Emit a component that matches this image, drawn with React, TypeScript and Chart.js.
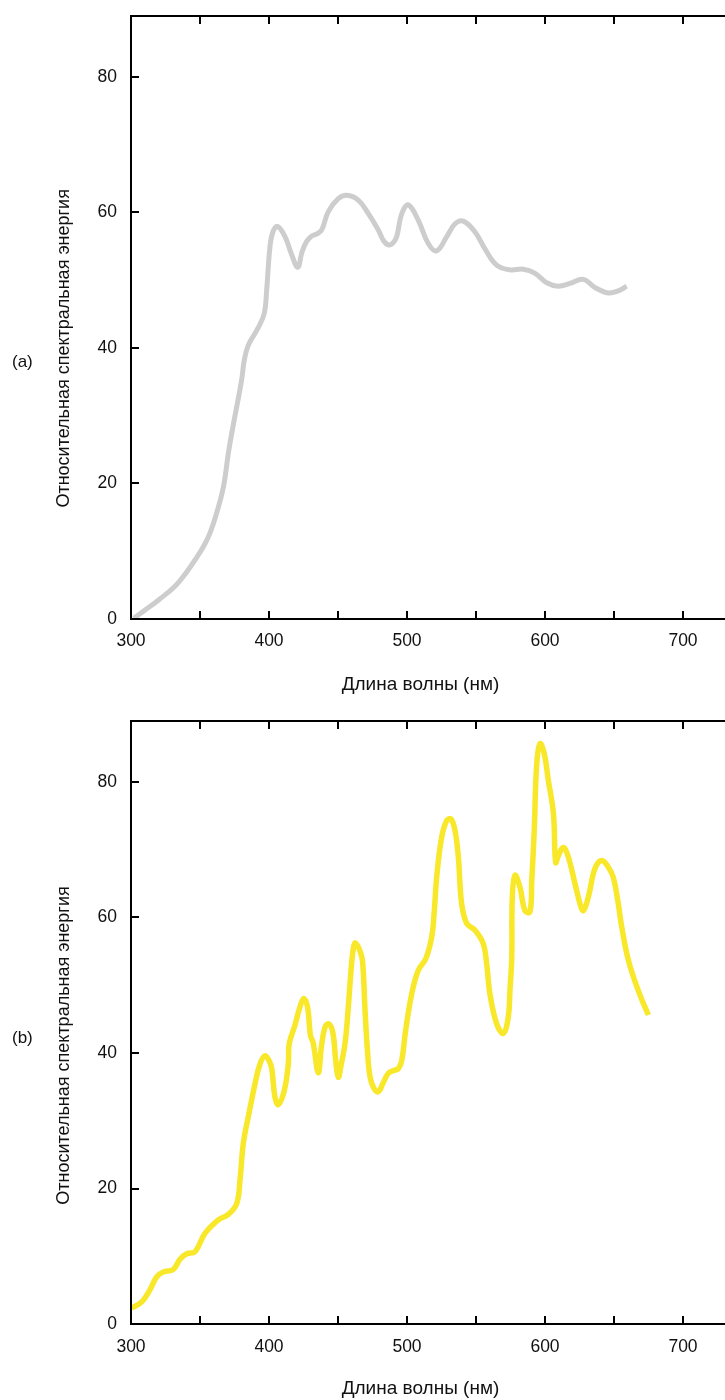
import React, { useEffect, useRef } from "react";
import { Chart, registerables } from "chart.js";

Chart.register(...registerables);

// ---- data ----
const waveA = [302, 310, 320, 334, 348, 356, 362, 367, 370.5, 373, 376.6, 380.2, 382.1, 385, 392, 396.6, 398.3, 400.7, 403, 406.3, 411.6, 416, 420.8, 424, 427.3, 431, 434.6, 438.2, 443, 450.2, 456.3, 464.7, 472, 479.2, 483, 486.4, 489.5, 492.5, 496.2, 501, 508.2, 515.4, 521.5, 528.8, 534.8, 540.8, 549.3, 556.5, 565, 574.6, 584.3, 592.8, 601.2, 609.6, 618.1, 627.8, 636.2, 645.9, 653.1, 659.2];
const energyA = [0.1, 1.3, 2.8, 5.3, 9.2, 12.1, 15.6, 19.5, 24.4, 27.4, 31.3, 35.3, 38.2, 40.4, 42.9, 45.1, 48.5, 54.9, 57.2, 57.9, 56.4, 54, 51.9, 54.2, 55.7, 56.5, 56.8, 57.4, 60.1, 62.0, 62.5, 61.8, 59.8, 57.4, 55.8, 55.2, 55.4, 56.4, 59.8, 61.1, 58.8, 55.4, 54.3, 56.4, 58.3, 58.7, 57.1, 54.6, 52.2, 51.5, 51.6, 51.0, 49.6, 49.1, 49.5, 50.1, 48.9, 48.1, 48.4, 49.1];

const waveB = [300.5, 307.8, 313.8, 318.6, 323.4, 330.7, 335.5, 340.4, 346.4, 353.6, 363.3, 370.5, 376.6, 379, 381.4, 385, 389.9, 393.5, 397.1, 400, 402, 404.3, 406.8, 411.1, 414, 414.7, 418.8, 422, 425, 427, 428.5, 430, 432, 435.7, 438, 440.6, 443.3, 446.3, 448.3, 450.2, 452.5, 455.1, 457.3, 459, 460.5, 462.2, 464.2, 466, 467.8, 469.6, 471.3, 473.2, 476, 479.2, 482.5, 486.4, 490, 493.7, 496.2, 499, 503.4, 508.2, 513.6, 517.9, 519.8, 521.5, 525.1, 528.8, 531.9, 534.8, 537.2, 539.6, 543.3, 549.3, 555.3, 557.7, 560.1, 565, 569.8, 573.4, 574.6, 575.9, 576.3, 578.3, 581.9, 585.5, 589.1, 590.4, 592.2, 594, 596.4, 599.5, 602.4, 606.1, 607.7, 609.7, 613.3, 616.9, 621.7, 625.4, 627.8, 631.4, 636.2, 641.1, 645.9, 649.5, 653.1, 655.6, 660.4, 667.6, 674.9];
const energyB = [2.4, 3.3, 5.1, 7.0, 7.7, 8.1, 9.6, 10.4, 10.7, 13.4, 15.4, 16.2, 17.8, 21.3, 26.7, 30.6, 35.5, 38.4, 39.6, 38.9, 37.7, 33.5, 32.4, 34.5, 38.4, 41.4, 44.1, 46.5, 48.0, 47.5, 46.0, 42.6, 41.5, 37.1, 41.0, 43.8, 44.3, 43.0, 39.0, 36.4, 38.5, 41.4, 46.3, 51, 54.5, 56.2, 55.8, 55.0, 53.5, 46.3, 40.5, 36.5, 34.8, 34.3, 35.5, 37.0, 37.4, 37.7, 38.9, 43.3, 48.7, 52.2, 53.9, 57.1, 61.0, 65.9, 71.8, 74.3, 74.5, 72.8, 68.9, 62.0, 59.1, 58.1, 56.1, 53.2, 48.7, 44.3, 42.9, 45.3, 49.2, 54.1, 63.0, 66.2, 64.4, 61.0, 60.8, 65.4, 72.8, 82.6, 85.6, 84.1, 80.2, 75.3, 68.1, 69.1, 70.3, 68.9, 65.0, 62.0, 61.0, 63.0, 67.2, 68.4, 67.4, 65.9, 62.0, 58.6, 53.7, 49.2, 45.6];

const xMin = 300;
const xMax = 750;
const xStep = 50;
const xLabelStep = 100;
const yMin = 0;
const yMax = 89;
const yTicks = [0, 20, 40, 60, 80];

const xTitle = "Длина волны (нм)";
const yTitle = "Относительная спектральная энергия";
const panelLabels = ["(a)", "(b)"];

const FONT = "'Liberation Sans', Arial, Helvetica, sans-serif";

type PanelProps = {
  waves: number[];
  values: number[];
  color: string;
  width: number;
  label: string;
  padTop: number;
  padBottom: number;
  yTitleShift: number;
  labelY: number;
  xTitleGap: number;
};

function Panel(p: PanelProps) {
  const ref = useRef<HTMLCanvasElement | null>(null);
  useEffect(() => {
    if (!ref.current) return;
    const framePlugin = {
      id: "frame",
      afterDraw(chart: any) {
        const { ctx, chartArea: a, scales } = chart;
        const x = scales.x;
        const y = scales.y;
        const L = Math.round(a.left);
        const R = Math.round(a.right);
        const T = Math.round(a.top);
        const B = Math.round(a.bottom);
        ctx.save();
        ctx.strokeStyle = "#000";
        ctx.lineWidth = 2;
        ctx.strokeRect(L, T, R - L, B - T);
        ctx.beginPath();
        const tl = 8;
        for (let v = xMin + xStep; v < xMax; v += xStep) {
          const px = Math.round(x.getPixelForValue(v));
          ctx.moveTo(px, B);
          ctx.lineTo(px, B - tl);
          ctx.moveTo(px, T);
          ctx.lineTo(px, T + tl);
        }
        for (const v of yTicks) {
          if (v === yMin) continue;
          const py = Math.round(y.getPixelForValue(v));
          ctx.moveTo(L, py);
          ctx.lineTo(L + tl, py);
          ctx.moveTo(R, py);
          ctx.lineTo(R - tl, py);
        }
        ctx.stroke();

        ctx.fillStyle = "#111";
        // x title
        ctx.font = `19px ${FONT}`;
        ctx.textAlign = "center";
        ctx.textBaseline = "middle";
        ctx.fillText(xTitle, 420.5, a.bottom + p.xTitleGap);
        // y title
        ctx.font = `18px ${FONT}`;
        ctx.save();
        ctx.translate(64, (a.top + a.bottom) / 2 + p.yTitleShift);
        ctx.rotate(-Math.PI / 2);
        ctx.fillText(yTitle, 0, 0);
        ctx.restore();
        // panel label
        ctx.font = `17px ${FONT}`;
        ctx.textAlign = "left";
        ctx.fillText(p.label, 12, p.labelY);
        ctx.restore();
      },
    };

    const chart = new Chart(ref.current, {
      type: "line",
      data: {
        datasets: [
          {
            data: p.waves.map((w, i) => ({ x: w, y: p.values[i] })),
            borderColor: p.color,
            borderWidth: p.width,
            pointRadius: 0,
            fill: false,
            tension: 0.4,
            borderCapStyle: "butt",
            borderJoinStyle: "round",
          },
        ],
      },
      options: {
        animation: false,
        responsive: false,
        devicePixelRatio: 1,
        layout: { padding: { left: 0, right: 28, top: p.padTop, bottom: p.padBottom } },
        plugins: { legend: { display: false }, tooltip: { enabled: false } },
        scales: {
          x: {
            type: "linear",
            min: xMin,
            max: xMax,
            grid: { display: false, drawTicks: false },
            border: { display: false },
            ticks: {
              stepSize: xStep,
              padding: 12,
              color: "#111",
              font: { family: FONT, size: 17.5 },
              maxRotation: 0,
              autoSkip: false,
              callback: (v: any) => (Number(v) % xLabelStep === 0 && Number(v) < 750 ? String(v) : ""),
            },
            afterFit: (s: any) => {
              s.height = 60;
              s.paddingLeft = 0;
              s.paddingRight = 0;
            },
          },
          y: {
            min: yMin,
            max: yMax,
            grid: { display: false, drawTicks: false },
            border: { display: false },
            ticks: {
              stepSize: 20,
              padding: 14,
              color: "#111",
              font: { family: FONT, size: 17.5 },
              autoSkip: false,
              callback: (v: any) => (yTicks.includes(Number(v)) ? String(v) : ""),
            },
            afterFit: (s: any) => {
              s.width = 131;
              s.paddingTop = 0;
              s.paddingBottom = 0;
            },
          },
        },
      },
      plugins: [framePlugin],
    } as any);
    return () => chart.destroy();
  }, []);
  return <canvas ref={ref} width={780} height={700} style={{ display: "block", width: 780, height: 700 }} />;
}

export default function App() {
  return (
    <div style={{ position: "absolute", left: 0, top: 0, width: 725, height: 1400, overflow: "hidden", background: "#fff" }}>
      <Panel waves={waveA} values={energyA} color="#cdcdcd" width={5} label={panelLabels[0]} padTop={15.7} padBottom={21} yTitleShift={31} labelY={362} xTitleGap={66} />
      <Panel waves={waveB} values={energyB} color="#f8e829" width={5.5} label={panelLabels[1]} padTop={20.7} padBottom={15.7} yTitleShift={23} labelY={338} xTitleGap={64} />
    </div>
  );
}
